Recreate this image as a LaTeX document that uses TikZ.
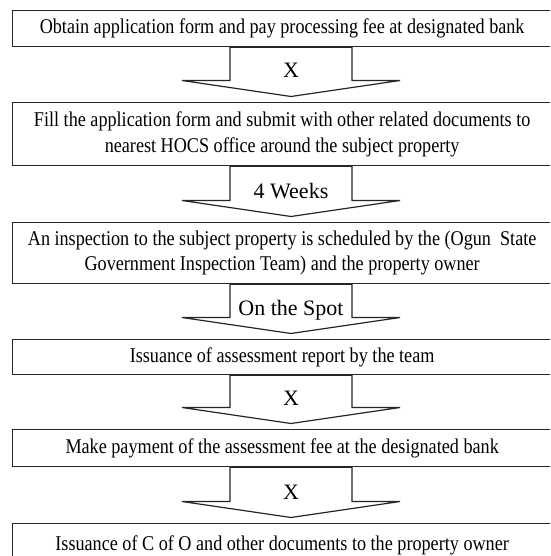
\documentclass[tikz,border=0pt]{standalone}
\usepackage{fontspec}
\setmainfont{Liberation Serif}
\newfontfamily\boxfont[FakeStretch=0.865]{Liberation Serif}
\newfontfamily\labelfont{Liberation Serif}
\usetikzlibrary{calc}
\definecolor{linec}{HTML}{262626}
\newcommand\flowarrow[4]{%
  \coordinate (#4c) at (291,0);
  \coordinate (#4t) at (#4c |- #1.south);
  \coordinate (#4tip) at ($(#4c |- #2.north)+(0,-5.5)$);
  \coordinate (#4s) at ($(#4tip)+(0,-16)$);
  \draw[arrowshape] ($(#4t)+(-61,0)$) -- ($(#4t)+(61,0)$) -- ($(#4t |- #4s)+(61,0)$)
    -- ($(#4s)+(109,0)$) -- (#4tip) -- ($(#4s)+(-109,0)$) -- ($(#4t |- #4s)+(-61,0)$) -- cycle;
  \node[steplabel] (#4l) at ($(#4s)+(0,-2.5)$) {#3};
}
\begin{document}
\begin{tikzpicture}[x=1pt,y=-1pt]
\tikzset{
  stepbox/.style={draw=linec, line width=1.3pt, fill=white, inner sep=0pt,
    minimum width=539pt, anchor=north west, align=center,
    font=\boxfont\fontsize{21}{25.5}\selectfont},
  arrowshape/.style={draw=linec, line width=1.2pt, fill=white, line join=miter},
  steplabel/.style={anchor=base, inner sep=0pt, font=\labelfont\fontsize{22}{26}\selectfont}
}
\clip (0,0) rectangle (550,556);
\fill[white] (0,0) rectangle (550,556);
\node[stepbox, minimum height=36pt] (b1) at (12,10) {Obtain application form and pay processing fee at designated bank};
\node[stepbox, minimum height=63pt] (b2) at (12,102) {Fill the application form and submit with other related documents to\\nearest HOCS office around the subject property};
\node[stepbox, minimum height=61pt] (b3) at (12,222) {An inspection to the subject property is scheduled by the (Ogun~~State\\Government Inspection Team) and the property owner};
\node[stepbox, minimum height=35pt] (b4) at (12,339) {Issuance of assessment report by the team};
\node[stepbox, minimum height=37pt] (b5) at (12,429) {Make payment of the assessment fee at the designated bank};
\node[stepbox, minimum height=44pt] (b6) at (12,523) {Issuance of C of O and other documents to the property owner};
\flowarrow{b1}{b2}{X}{a1}
\flowarrow{b2}{b3}{4 Weeks}{a2}
\flowarrow{b3}{b4}{On the Spot}{a3}
\flowarrow{b4}{b5}{X}{a4}
\flowarrow{b5}{b6}{X}{a5}
\end{tikzpicture}
\end{document}
